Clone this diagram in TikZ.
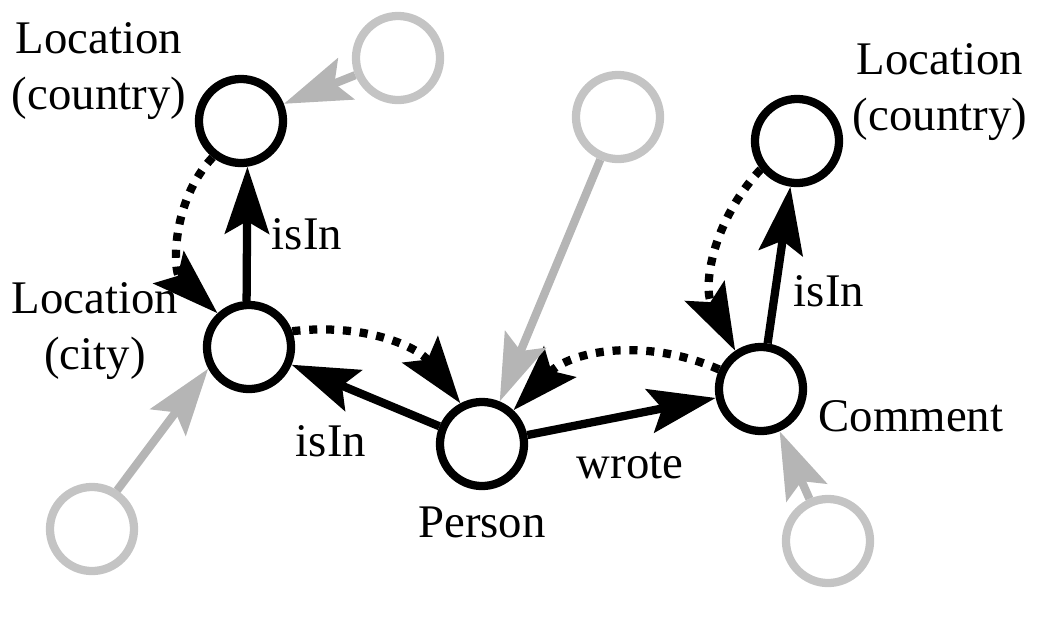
\documentclass[tikz,border=0pt]{standalone}
\usepackage{fontspec}
\setmainfont{Liberation Serif}
\usetikzlibrary{positioning}
\usetikzlibrary{arrows.meta}

\definecolor{ghost}{gray}{0.77}
\definecolor{ghostline}{gray}{0.71}

\begin{document}
\begin{tikzpicture}[
    x=0.01cm, y=-0.01cm,
    vertex/.style={circle, draw=black, line width=2.35pt, minimum size=0.84cm, inner sep=0pt},
    faded/.style={vertex, draw=ghost},
    rel/.style={line width=2.35pt, -{Stealth[length=19pt, width=12.5pt, inset=3.5pt]}},
    hint/.style={rel, dash pattern=on 2.3pt off 2.5pt},
    outer/.style={rel, draw=ghostline},
    lbl/.style={font=\fontsize{13.3}{15.9}\selectfont, align=center, inner sep=0pt}
]
    \useasboundingbox (0,0) rectangle (1048,636);

    % Black vertices
    \node[vertex] (cL) at (241,121) {};
    \node[vertex] (ci) at (249,347) {};
    \node[vertex] (pe) at (482,444) {};
    \node[vertex] (co) at (761,389) {};
    \node[vertex] (cR) at (797,141) {};

    % Grey neighbours
    \node[faded] (g1) at (398,58) {};
    \node[faded] (g2) at (618,117) {};
    \node[faded] (g3) at (92,529) {};
    \node[faded] (g4) at (828,541) {};

    % Vertex labels
    \node[lbl] (tCL) at (99,71) {Location\\(country)};
    \node[lbl] (tCR) at (940,92) {Location\\(country)};
    \node[lbl] (tCI) at (95,331) {Location\\(city)};
    \node[lbl] (tCO) at (911,416) {Comment};
    \node[lbl] (tPE) [below=0.16cm of pe] {Person};

    % Edges
    \draw[rel] (ci.93) -- (cL.278);
    \draw[rel] (pe) -- (ci);
    \draw[rel] (pe) -- (co);
    \draw[rel] (co) -- (cR);

    \node[lbl] (e1) at (307,234) {isIn};
    \node[lbl] (e2) at (331,441) {isIn};
    \node[lbl] (e3) at (630,466) {wrote};
    \node[lbl] (e4) at (829,291) {isIn};

    % Reverse hints
    \draw[hint] (cL.232) to[bend right=45] (ci.133);
    \draw[hint] (ci.20) to[bend left=30] (pe.118);
    \draw[hint] (co.155) to[bend right=35] (pe.47);
    \draw[hint] (cR.218) to[bend right=35] (co.124);

    % Grey edges
    \draw[outer] (g1) -- (cL);
    \draw[outer] (g2) -- (pe);
    \draw[outer] (g3.57) -- (ci.208);
    \draw[outer] (g4) -- (co);
\end{tikzpicture}
\end{document}
